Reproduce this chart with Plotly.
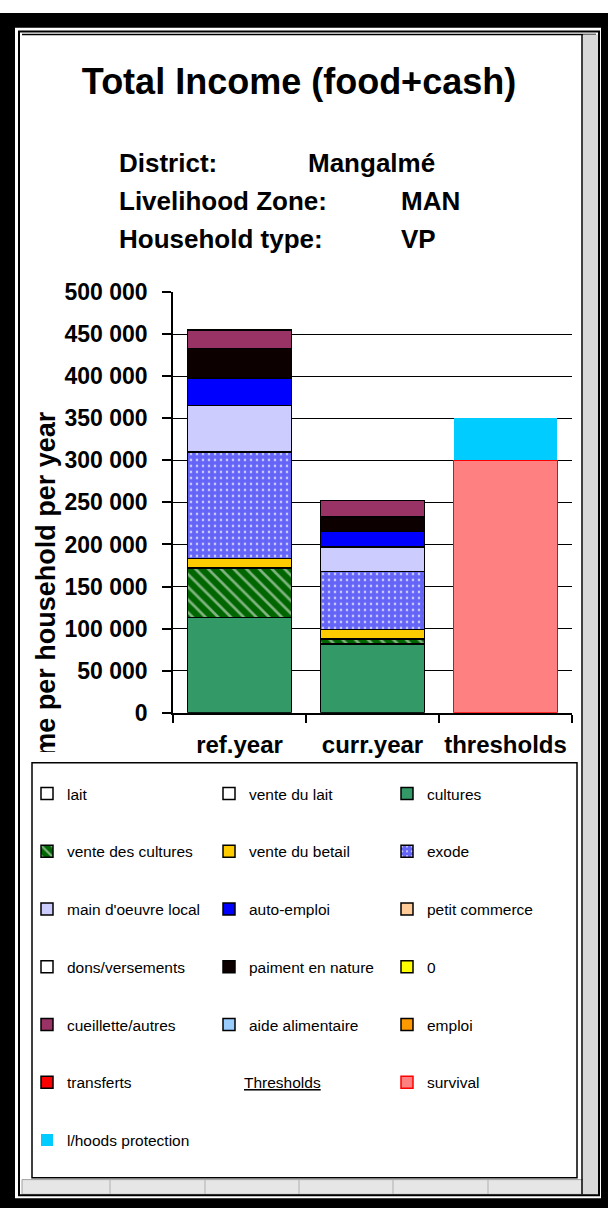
import plotly.graph_objects as go

W, H = 608, 1221

categories = ["ref.year", "curr.year", "thresholds"]

# income sources, values per category (ref.year, curr.year, thresholds)
lait = [0, 0, None]
vente_du_lait = [0, 0, None]
cultures = [113000, 82000, None]
vente_des_cultures = [59000, 5500, None]
vente_du_betail = [11000, 11500, None]
exode = [127000, 69000, None]
main_oeuvre_local = [55000, 29000, None]
auto_emploi = [33000, 18500, None]
petit_commerce = [0, 0, None]
dons_versements = [0, 0, None]
paiment_en_nature = [35000, 17000, None]
zero_series = [0, 0, None]
cueillette_autres = [21500, 19500, None]
aide_alimentaire = [0, 0, None]
emploi = [0, 0, None]
transferts = [0, 0, None]
# thresholds
survival = [None, None, 300000]
lhoods_protection = [None, None, 50000]

FONT = "Liberation Sans, Arial, sans-serif"


def fx(px):
    return px / W


def fy(py):
    return 1 - py / H


# name, values, fill colour, outline colour, pattern
series = [
    ("lait", lait, "#FFFFFF", "#000000", None),
    ("vente du lait", vente_du_lait, "#FFFFFF", "#000000", None),
    ("cultures", cultures, "#339966", "#000000", None),
    ("vente des cultures", vente_des_cultures, "#006600", "#000000",
     dict(shape="\\", fgcolor="#FFFFFF", size=9, solidity=0.3)),
    ("vente du betail", vente_du_betail, "#FFCC00", "#000000", None),
    ("exode", exode, "#C8C8FF", "#000000",
     dict(shape="+", fgcolor="#0000F0", size=6, solidity=0.85)),
    ("main d'oeuvre local", main_oeuvre_local, "#CCCCFF", "#000000", None),
    ("auto-emploi", auto_emploi, "#0000FF", "#000000", None),
    ("petit commerce", petit_commerce, "#FFCC99", "#000000", None),
    ("dons/versements", dons_versements, "#FFFFFF", "#000000", None),
    ("paiment en nature", paiment_en_nature, "#0D0000", "#000000", None),
    ("0", zero_series, "#FFFF00", "#000000", None),
    ("cueillette/autres", cueillette_autres, "#993366", "#000000", None),
    ("aide alimentaire", aide_alimentaire, "#99CCFF", "#000000", None),
    ("emploi", emploi, "#FF9900", "#000000", None),
    ("transferts", transferts, "#FF0000", "#000000", None),
    ("survival", survival, "#FF8080", "#FF0000", None),
    ("l/hoods protection", lhoods_protection, "#00CCFF", "#00CCFF", None),
]

# legend grid: 3 columns, row-major, cell 16 holds the "Thresholds" heading
col_x = [47, 229, 407]
row_y = [798, 857, 916, 975, 1034, 1093, 1152]

fig = go.Figure()
layout_legends = {}
for i, (name, vals, color, lcolor, pattern) in enumerate(series):
    cell = i if i < 16 else i + 1
    r, c = divmod(cell, 3)
    leg = "legend" if i == 0 else f"legend{i + 1}"
    lw = 0 if name == "l/hoods protection" else 1.5
    marker = dict(color=color, line=dict(color=lcolor, width=lw))
    if pattern:
        marker["pattern"] = dict(fillmode="overlay", **pattern)
    fig.add_trace(go.Bar(x=categories, y=vals, name=name, marker=marker, legend=leg))
    layout_legends[leg] = dict(
        visible=True,
        x=fx(col_x[c] - 20), y=fy(row_y[r]), xanchor="left", yanchor="middle",
        xref="paper", yref="paper", bgcolor="rgba(0,0,0,0)", borderwidth=0,
        font=dict(family=FONT, size=15.5, color="#000000"),
    )

shapes = []
# y-axis title (clipped by the legend box like in the source)
shapes.append(dict(
    type="line", xref="paper", yref="paper",
    x0=fx(43), x1=fx(43), y0=fy(812), y1=fy(412),
    line=dict(color="rgba(0,0,0,0)", width=1), layer="above",
    label=dict(text="Income per household per year", textangle=-90,
               textposition="middle", yanchor="middle", padding=0,
               font=dict(family=FONT, size=27, color="#000000", weight="bold")),
))
# white masks + legend box
shapes.append(dict(type="rect", xref="paper", yref="paper", x0=fx(20), x1=fx(64),
                   y0=fy(772), y1=fy(755), fillcolor="white", line=dict(width=0), layer="above"))
shapes.append(dict(type="rect", xref="paper", yref="paper", x0=fx(32), x1=fx(577),
                   y0=fy(1190), y1=fy(766), fillcolor="white",
                   line=dict(color="#000000", width=1.5), layer="above"))
# sheet grid row at bottom
shapes.append(dict(type="rect", xref="paper", yref="paper", x0=fx(22), x1=fx(596),
                   y0=fy(1207), y1=fy(1192), fillcolor="#E6E6E6",
                   line=dict(color="#A0A0A0", width=1), layer="above"))
for gx in [110, 205, 299, 393, 488]:
    shapes.append(dict(type="line", xref="paper", yref="paper", x0=fx(gx), x1=fx(gx),
                       y0=fy(1207), y1=fy(1192), line=dict(color="#B0B0B0", width=1), layer="above"))
# chart object border
shapes.append(dict(type="line", xref="paper", yref="paper", x0=fx(582), x1=fx(582),
                   y0=fy(1207), y1=fy(22), line=dict(color="#000000", width=1.5), layer="above"))
shapes.append(dict(type="line", xref="paper", yref="paper", x0=fx(22), x1=fx(596),
                   y0=fy(22), y1=fy(22), line=dict(color="#000000", width=1.5), layer="above"))
shapes.append(dict(type="rect", xref="paper", yref="paper", x0=fx(583), x1=fx(598),
                   y0=fy(1207), y1=fy(22), fillcolor="#D8D8D8", line=dict(width=0), layer="above"))
# outer frame
shapes.append(dict(type="rect", xref="paper", yref="paper", x0=fx(19), x1=fx(599),
                   y0=fy(1208), y1=fy(19), line=dict(color="#000000", width=2), layer="above"))
for x0, y0, x1, y1 in [(0, 0, W, 15), (0, 0, 15, H), (601, 0, W, H), (0, 1211, W, H)]:
    shapes.append(dict(type="rect", xref="paper", yref="paper", x0=fx(x0), x1=fx(x1),
                       y0=fy(y1), y1=fy(y0), fillcolor="#000000", line=dict(width=0), layer="above"))

annotations = []
sub_rows = [("District:", "Mangalmé", 306, 153), ("Livelihood Zone:", "MAN", 399, 192),
            ("Household type:", "VP", 399, 231)]
for label, value, vx, vy in sub_rows:
    annotations.append(dict(text=label, x=fx(117), y=fy(vy), xref="paper", yref="paper",
                            xanchor="left", yanchor="middle", showarrow=False,
                            font=dict(family=FONT, size=26, color="#000000", weight="bold")))
    annotations.append(dict(text=value, x=fx(vx), y=fy(vy), xref="paper", yref="paper",
                            xanchor="left", yanchor="middle", showarrow=False,
                            font=dict(family=FONT, size=26, color="#000000", weight="bold")))
annotations.append(dict(text="<u>Thresholds</u>", x=fx(242), y=fy(1093), xref="paper", yref="paper",
                        xanchor="left", yanchor="middle", showarrow=False,
                        font=dict(family=FONT, size=15.5, color="#000000")))

fig.update_layout(
    autosize=True,
    margin=dict(l=0, r=0, t=0, b=0),
    paper_bgcolor="white", plot_bgcolor="white",
    showlegend=True,
    barmode="stack", bargap=0.22,
    separators=", ",
    title=dict(text="<b>Total Income (food+cash)</b>", x=fx(299), xanchor="center",
               y=fy(81), yanchor="middle",
               font=dict(family=FONT, size=36, color="#000000")),
    xaxis=dict(domain=[fx(173), fx(572)], showline=True, linecolor="#000000", linewidth=1.5,
               ticks="outside", tickson="boundaries", ticklen=8, tickwidth=1.5, tickcolor="#000000",
               showgrid=False, ticklabelstandoff=10,
               tickfont=dict(family=FONT, size=24, color="#000000", weight="bold")),
    yaxis=dict(domain=[fy(715), fy(285)], range=[0, 500000], dtick=50000, tickformat=",d",
               showline=True, linecolor="#000000", linewidth=1.5, ticks="outside", ticklen=9,
               tickwidth=1.5, tickcolor="#000000", showgrid=True, gridcolor="#000000", gridwidth=1.2,
               zeroline=False, ticklabelstandoff=10,
               tickfont=dict(family=FONT, size=23, color="#000000", weight="bold")),
    shapes=shapes,
    annotations=annotations,
    **layout_legends,
)

# figure fills the browser window exactly
fig.write_html(
    "out.html",
    default_width="100vw",
    default_height="100vh",
    config={"displayModeBar": False, "responsive": True},
    post_script=(
        "var gd=document.getElementById('{plot_id}');"
        "document.documentElement.style.overflow='hidden';"
        "document.body.style.margin='0';document.body.style.overflow='hidden';"
        "gd.style.position='fixed';gd.style.left='0px';gd.style.top='0px';"
        "Plotly.Plots.resize(gd);"
    ),
)
